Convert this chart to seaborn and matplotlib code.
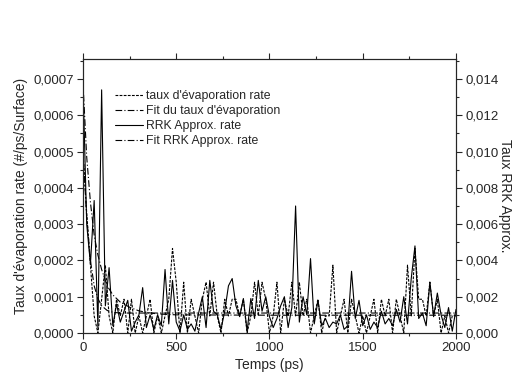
import numpy as np
import pandas as pd
import seaborn as sns
import matplotlib.pyplot as plt
from matplotlib.ticker import FuncFormatter, MultipleLocator
from matplotlib.lines import Line2D

# temps (ps), un point toutes les 20 ps
temps = np.arange(0, 2001, 20)

# taux d'evaporation (x 1e-4, axe gauche)
evap = [5.0, 3.3, 1.87, 0.47, 0.0, 0.93, 1.87, 0.47, 0.0, 0.93,
        0.47, 0.93, 0.0, 0.93, 0.0, 0.47, 0.0, 0.47, 0.93, 0.0,
        0.47, 0.0, 0.47, 0.93, 2.33, 1.4, 0.0, 1.4, 0.0, 0.93,
        0.47, 0.0, 0.93, 1.4, 0.47, 1.4, 0.47, 0.0, 0.93, 0.47,
        0.93, 0.93, 0.47, 0.93, 0.0, 0.47, 1.4, 0.47, 1.4, 0.93,
        0.0, 0.47, 1.4, 0.0, 0.93, 0.47, 1.4, 0.47, 1.4, 0.47,
        0.93, 0.0, 0.47, 0.93, 0.0, 0.47, 0.47, 1.87, 0.0, 0.47,
        0.93, 0.0, 0.93, 0.47, 0.0, 0.47, 0.0, 0.47, 0.93, 0.0,
        0.93, 0.47, 0.93, 0.0, 0.93, 0.47, 0.0, 1.87, 0.47, 2.33,
        0.93, 0.93, 0.47, 1.4, 0.47, 0.93, 0.0, 0.47, 0.0, 0.47,
        0.47]

# taux RRK approx (x 1e-3, axe droit)
rrk = [13.8, 6.0, 3.8, 7.3, 0.3, 13.4, 1.5, 3.6, 0.4, 1.6,
       0.6, 1.2, 1.8, 0.1, 0.6, 1.0, 2.5, 0.3, 1.0, 0.2,
       1.0, 0.4, 3.5, 0.5, 2.9, 0.6, 0.1, 1.0, 0.2, 0.5,
       0.1, 1.1, 2.0, 0.3, 2.9, 1.2, 1.0, 0.2, 1.2, 2.6,
       3.0, 1.5, 0.9, 1.9, 0.1, 1.9, 0.8, 2.9, 1.2, 2.0,
       0.9, 0.3, 0.8, 1.5, 2.0, 0.3, 1.4, 7.0, 0.6, 2.0,
       1.0, 4.1, 0.5, 1.8, 0.4, 0.8, 0.3, 0.6, 0.5, 1.0,
       0.2, 0.4, 3.4, 0.8, 1.8, 0.4, 1.0, 0.2, 0.6, 0.3,
       1.2, 0.5, 0.8, 0.4, 1.3, 0.6, 2.0, 0.5, 3.0, 4.8,
       0.8, 1.1, 0.4, 2.8, 0.9, 2.2, 1.0, 0.3, 1.4, 0.1,
       1.3]

# courbes de fit
fit_t = [0, 20, 40, 60, 80, 100, 130, 160, 200, 250, 300, 350, 400, 500, 1000, 2000]
fit_evap = [5.0, 3.2, 2.0, 1.3, 0.95, 0.75, 0.62, 0.57, 0.55, 0.55, 0.55, 0.55, 0.55, 0.55, 0.55, 0.55]
fit_rrk = [13.8, 9.7, 7.2, 5.4, 4.3, 3.5, 2.6, 2.1, 1.7, 1.42, 1.22, 1.12, 1.05, 1.0, 0.98, 0.98]

df = pd.DataFrame({"t": temps, "evap": np.array(evap) * 1e-4, "rrk": np.array(rrk) * 1e-3})
df_fit = pd.DataFrame({"t": fit_t, "evap": np.array(fit_evap) * 1e-4, "rrk": np.array(fit_rrk) * 1e-3})

sns.set_style("ticks")
plt.rcParams['font.family'] = ['Liberation Sans', 'DejaVu Sans']

fig = plt.figure(figsize=(5.17, 3.8), dpi=100)
ax = fig.add_axes([0.1605, 0.1237, 0.7215, 0.721])
ax2 = ax.twinx()

sns.lineplot(data=df, x="t", y="evap", ax=ax, color="k", lw=0.8)
ax.lines[-1].set_dashes((2.5, 1.2))
sns.lineplot(data=df_fit, x="t", y="evap", ax=ax, color="k", lw=0.8)
ax.lines[-1].set_dashes((6, 2, 1, 2))
sns.lineplot(data=df, x="t", y="rrk", ax=ax2, color="k", lw=0.8)
sns.lineplot(data=df_fit, x="t", y="rrk", ax=ax2, color="k", lw=0.8)
ax2.lines[-1].set_dashes((6, 2, 1, 2))

ax.set_xlim(0, 2000)
ax.set_ylim(0, 0.000755)
ax2.set_ylim(0, 0.0151)

comma = lambda fmt: FuncFormatter(lambda v, p: (fmt % v).replace(".", ","))
ax.xaxis.set_major_locator(MultipleLocator(500))
ax.xaxis.set_minor_locator(MultipleLocator(250))
ax.yaxis.set_major_locator(MultipleLocator(0.0001))
ax.yaxis.set_minor_locator(MultipleLocator(0.00005))
ax.yaxis.set_major_formatter(comma("%.4f"))
ax2.yaxis.set_major_locator(MultipleLocator(0.002))
ax2.yaxis.set_minor_locator(MultipleLocator(0.001))
ax2.yaxis.set_major_formatter(comma("%.3f"))

for a in (ax, ax2):
    a.tick_params(which="major", length=4, width=0.8, labelsize=9.5, direction="out", pad=2.5)
    a.tick_params(which="minor", length=2.5, width=0.8, direction="out")
    for s in a.spines.values():
        s.set_linewidth(0.8)
ax.tick_params(axis="x", which="both", top=True, labeltop=False)

ax.set_xlabel("Temps (ps)", fontsize=10, labelpad=3)
ax.set_ylabel("Taux d'évaporation rate (#/ps/Surface)", fontsize=10, labelpad=4)
ax2.set_ylabel("Taux RRK Approx.", fontsize=10, rotation=270, labelpad=10)

handles = [Line2D([], [], color="k", lw=0.8, dashes=(2.5, 1.2)),
           Line2D([], [], color="k", lw=0.8, dashes=(6, 2, 1, 2)),
           Line2D([], [], color="k", lw=0.8),
           Line2D([], [], color="k", lw=0.8, dashes=(6, 2, 1, 2))]
labels = ["taux d'évaporation rate", "Fit du taux d'évaporation",
          "RRK Approx. rate", "Fit RRK Approx. rate"]
ax2.legend(handles, labels, loc="upper left", bbox_to_anchor=(0.072, 0.905),
           frameon=False, fontsize=8.8, handlelength=2.3, handletextpad=0.25,
           labelspacing=0.25, borderaxespad=0)

fig.savefig("out.png", dpi=100)
